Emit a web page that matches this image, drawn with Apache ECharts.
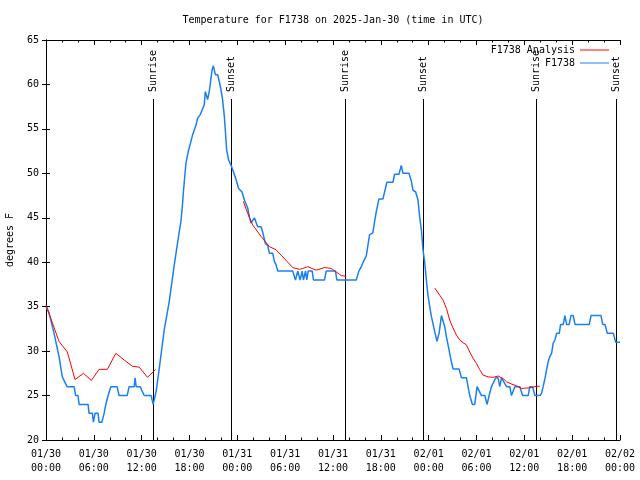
<!DOCTYPE html>
<html>
<head>
<meta charset="utf-8">
<script src="https://cdn.jsdelivr.net/npm/echarts@6/dist/echarts.min.js"></script>
<style>html,body{margin:0;padding:0;background:#fff;}#c{width:640px;height:480px;}</style>
</head>
<body>
<div id="c"></div>
<script>
// ---- data (time in hours since 2025-01-30 00:00 UTC, temperature in degrees F) ----
const xTickLabels = ['01/30\n00:00','01/30\n06:00','01/30\n12:00','01/30\n18:00','01/31\n00:00','01/31\n06:00','01/31\n12:00','01/31\n18:00','02/01\n00:00','02/01\n06:00','02/01\n12:00','02/01\n18:00','02/02\n00:00'];

const obsTime = [0,0.38,1.01,1.63,2.05,2.26,2.64,3.52,3.73,4.02,4.15,5.28,5.40,5.82,5.94,6.03,6.16,6.53,6.66,7.00,7.29,7.50,7.79,8.13,8.92,9.17,10.18,10.43,11.06,11.18,11.31,11.81,12.31,13.19,13.44,13.82,14.20,14.83,15.46,16.09,16.37,16.71,16.93,17.13,17.25,17.55,17.88,18.18,18.38,18.81,19.01,19.35,19.57,19.85,19.98,20.27,20.48,20.70,20.82,20.99,21.24,21.53,21.74,21.95,22.15,22.37,22.49,22.66,22.91,23.21,23.50,23.84,24.16,24.59,24.88,25.30,25.51,25.72,25.92,26.14,26.35,26.55,26.98,27.18,27.52,27.81,28.02,28.44,28.65,28.86,29.07,30.95,31.29,31.58,31.88,32.13,32.29,32.55,32.71,32.89,33.39,33.55,34.93,35.15,36.32,36.48,38.92,39.24,39.55,39.83,40.17,40.38,40.59,41.00,41.22,41.43,41.76,42.26,42.47,42.76,43.52,43.73,44.27,44.57,44.77,45.53,45.83,46.03,46.37,46.66,46.87,47.09,47.29,47.50,47.71,47.91,48.13,48.34,48.54,48.76,49.04,49.30,49.47,49.60,49.80,50.01,50.23,50.43,50.64,50.85,51.06,51.81,52.11,52.74,52.94,53.15,53.49,53.78,54.07,54.32,54.62,55.04,55.33,55.58,55.88,56.08,56.42,56.71,56.92,57.14,57.34,57.77,58.18,58.39,58.60,58.81,59.44,59.78,60.48,60.69,61.03,61.32,61.95,62.16,62.36,62.58,62.79,62.99,63.20,63.42,63.62,63.84,64.05,64.38,64.55,64.88,65.09,65.30,65.63,65.85,66.14,66.35,68.15,68.36,69.62,69.83,70.12,70.41,71.16,71.46,72.00];
const obsTemp = [35,34.3,32,29.4,27.1,27,26,26,25,25,24,24,23,23,22,22,23,23,22,22,23,24,25,26,26,25,25,26,26,27,26,26,25,25,24,25.5,28,32.4,35.6,39.7,41.4,43.4,44.6,46.6,48.1,51.1,52.6,53.6,54.3,55.4,56.2,56.6,57.1,57.7,59.2,58.3,59.2,60.7,61.6,62.1,61.1,61.1,60.3,59.4,58.3,56.4,54.9,52.6,51.5,50.9,50.2,49.3,48.3,47.9,47,46.1,45.1,44.4,44.2,45,45,44,44,43.4,42.1,41.9,41,41,40.1,39.7,39,39,38,39,38,39,38,39,38,39,39,38,38,39,39,38,38,39,39.5,40.1,40.7,41.9,43.1,43.3,44.6,45.7,47.1,47.1,47.9,49,49,49.9,49.9,50.9,50,50,49.1,48.1,47.9,47,45.1,43.6,41.4,40,38,36.3,35,33.9,33.1,32.2,31.1,32,33.1,34,34,32.75,31.6,30.7,29.75,28.8,28,28,27,27,26,25,24,24,26,26,25,25,24,25,26,26,27,27,26,27,27,26,26,25,25,26,26,25,25,26,26,25,25,25.25,26,26.9,27.9,28.8,29.4,29.75,30.9,31.25,32,32,33,33,34,33,33,34,34,33,33,34,34,33,33,32,32,31,31];

const anaTime = [0,0.59,1.63,2.68,3.64,4.69,5.69,6.66,7.70,8.76,9.80,10.84,11.69,12.73,13.78,
  19.0,
  24.75,25.30,25.92,26.98,28.02,28.86,29.49,30.12,30.95,31.79,32.21,32.84,33.89,34.93,35.78,36.40,37.03,37.66,
  43.0,
  48.76,49.38,49.80,50.23,50.64,51.06,51.48,51.90,52.31,52.74,53.15,53.57,54.00,54.41,54.83,55.45,56.08,56.71,57.34,57.77,58.39,59.02,59.65,60.28,60.91,61.54,61.95];
const anaTemp = [35.2,33.7,31.1,29.9,26.8,27.5,26.7,27.95,27.95,29.75,29.0,28.3,28.2,27.05,27.95,
  null,
  46.85,45.5,44.2,42.9,41.75,41.4,40.8,40.2,39.4,39.2,39.3,39.5,39.1,39.4,39.3,38.9,38.5,38.4,
  null,
  37.1,36.3,35.75,34.8,33.5,32.6,31.8,31.25,30.95,30.7,29.9,29.2,28.6,27.9,27.3,27.1,27.05,27.2,26.9,26.55,26.3,26.1,25.8,25.85,25.9,26.05,26.05];

const sunTime = [13.37,23.18,37.51,47.29,61.51,71.46];
const sunLabel = ['Sunrise','Sunset','Sunrise','Sunset','Sunrise','Sunset'];

// ---- build ----
const FONT = 'DejaVu Sans Mono';
const obsData = obsTime.map((t,i)=>[t, obsTemp[i]]);
const anaData = anaTime.map((t,i)=>[t, anaTemp[i] === null ? '-' : anaTemp[i]]);
const sunData = sunTime.map(t=>[t, 20]);

const chart = echarts.init(document.getElementById('c'), null, {renderer:'canvas'});
const axisLine = {show:true, lineStyle:{color:'#000', width:1}};
const txt = {fontFamily:FONT, fontSize:10, color:'#000'};

const xCommon = {
  type:'value', min:0, max:72, interval:6,
  axisLine: axisLine,
  axisTick:{show:true, inside:true, length:5, lineStyle:{color:'#000'}},
  minorTick:{show:true, splitNumber:3, length:2.5, lineStyle:{color:'#000'}},
  splitLine:{show:false}, minorSplitLine:{show:false}
};
const yCommon = {
  type:'value', min:20, max:65, interval:5,
  axisLine: axisLine,
  axisTick:{show:true, inside:true, length:4, lineStyle:{color:'#000'}},
  splitLine:{show:false}
};

chart.setOption({
  animation:false,
  backgroundColor:'#fff',
  title:{
    text:'Temperature for F1738 on 2025-Jan-30 (time in UTC)',
    left:333, top:15, textAlign:'center', padding:0,
    textStyle:{fontFamily:FONT, fontSize:10, fontWeight:'normal', color:'#000'}
  },
  legend:[
    {data:['F1738 Analysis'], orient:'vertical', align:'right', right:31, top:45, padding:0,
     icon:'rect', itemWidth:29, itemHeight:1, textStyle:txt, selectedMode:false},
    {data:['F1738'], orient:'vertical', align:'right', right:31, top:58, padding:0,
     icon:'rect', itemWidth:29, itemHeight:1, textStyle:txt, selectedMode:false}
  ],
  grid:{left:46, right:20, top:40, bottom:40, containLabel:false, outerBoundsMode:'none'},
  xAxis:[
    Object.assign({}, xCommon, {position:'bottom',
      axisLabel:{show:true, margin:7, lineHeight:14, fontFamily:FONT, fontSize:10, color:'#000',
        formatter:(v)=>xTickLabels[Math.round(v/6)] || ''}}),
    Object.assign({}, xCommon, {position:'top', axisLabel:{show:false}})
  ],
  yAxis:[
    Object.assign({}, yCommon, {position:'left',
      name:'degrees F', nameLocation:'middle', nameRotate:90, nameGap:31,
      nameTextStyle:{fontFamily:FONT, fontSize:10, color:'#000'},
      axisLabel:{show:true, margin:7, fontFamily:FONT, fontSize:10, color:'#000'}}),
    Object.assign({}, yCommon, {position:'right', axisLabel:{show:false}})
  ],
  series:[
    {
      type:'custom', name:'sun', xAxisIndex:0, yAxisIndex:0, z:1, silent:true,
      data:sunData,
      renderItem:(params, api)=>{
        const t = api.value(0);
        const b = api.coord([t, 20]);
        const tp = api.coord([t, 65]);
        const x = Math.round(b[0]) + 0.5;
        const lineTop = tp[1] + 59;
        return {type:'group', children:[
          {type:'line', shape:{x1:x, y1:b[1], x2:x, y2:lineTop}, style:{stroke:'#000', lineWidth:1}},
          {type:'text', x:x, y:lineTop - 7, rotation:Math.PI/2,
           style:{text:sunLabel[params.dataIndex], font:'10px ' + FONT, fill:'#000', align:'left', verticalAlign:'middle'}}
        ]};
      }
    },
    {
      type:'line', name:'F1738', data:obsData, showSymbol:false, z:3,
      lineStyle:{color:'#1a80f0', width:1.5}, itemStyle:{color:'#1a80f0'}
    },
    {
      type:'line', name:'F1738 Analysis', data:anaData, showSymbol:false, connectNulls:false, z:4,
      lineStyle:{color:'#ff0000', width:1}, itemStyle:{color:'#ff0000'}
    }
  ]
});
</script>
</body>
</html>
